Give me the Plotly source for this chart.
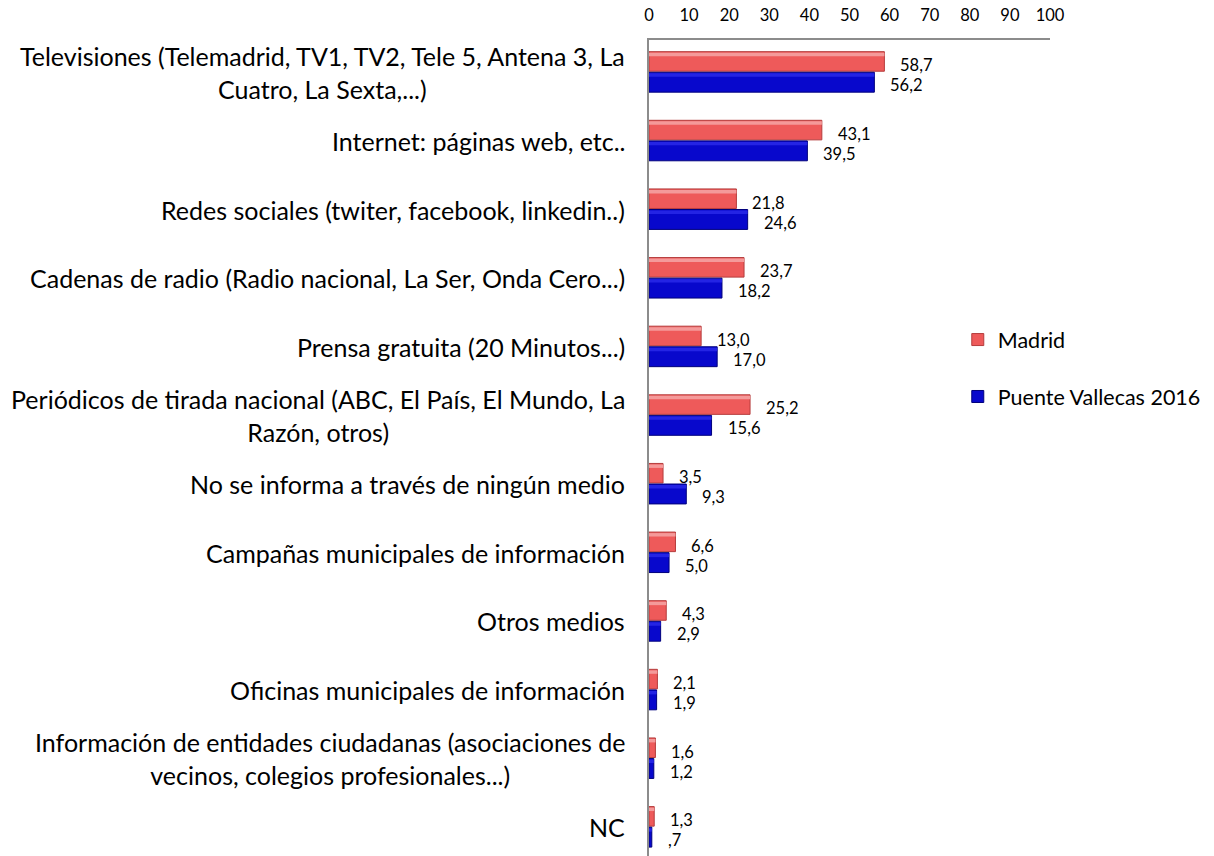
import plotly.graph_objects as go

# Medios de información: porcentajes por categoría
categorias = [
    "Televisiones (Telemadrid, TV1, TV2, Tele 5, Antena 3, La<br>Cuatro, La Sexta,...)",
    "Internet: páginas web, etc..",
    "Redes sociales (twiter, facebook, linkedin..)",
    "Cadenas de radio (Radio nacional, La Ser, Onda Cero...)",
    "Prensa gratuita (20 Minutos...)",
    "Periódicos de tirada nacional (ABC, El País, El Mundo, La<br>Razón, otros)",
    "No se informa a través de ningún medio",
    "Campañas municipales de información",
    "Otros medios",
    "Oficinas municipales de información",
    "Información de entidades ciudadanas (asociaciones de<br>vecinos, colegios profesionales...)",
    "NC",
]
madrid = [58.7, 43.1, 21.8, 23.7, 13.0, 25.2, 3.5, 6.6, 4.3, 2.1, 1.6, 1.3]
vallecas = [56.2, 39.5, 24.6, 18.2, 17.0, 15.6, 9.3, 5.0, 2.9, 1.9, 1.2, 0.7]
ticks_x = [0, 10, 20, 30, 40, 50, 60, 70, 80, 90, 100]

FONT = "Lato"
ROJO, ROJO_CLARO, ROJO_OSCURO = "#EE5A5A", "#F49A9A", "#B53C3C"
AZUL, AZUL_CLARO, AZUL_OSCURO = "#0808CC", "#2424E4", "#00007C"


def etiqueta(v):
    s = f"{v:.1f}".replace(".", ",")
    return s[1:] if s.startswith("0") else s


fig = go.Figure()

# barras principales
fig.add_trace(go.Bar(
    x=madrid, y=categorias, orientation="h", name="Madrid",
    offset=-0.30, width=0.285,
    marker=dict(color=ROJO, line=dict(color=ROJO_OSCURO, width=1)),
    legendgroup="m", hoverinfo="skip",
))
fig.add_trace(go.Bar(
    x=vallecas, y=categorias, orientation="h", name="Puente Vallecas 2016",
    offset=0.0, width=0.29,
    marker=dict(color=AZUL, line=dict(color=AZUL_OSCURO, width=1)),
    legendgroup="v", hoverinfo="skip",
))
# brillo superior de cada barra (efecto biselado)
fig.add_trace(go.Bar(
    x=madrid, y=categorias, orientation="h", showlegend=False,
    offset=-0.285, width=0.05,
    marker=dict(color=ROJO_CLARO, line=dict(width=0)),
    hoverinfo="skip",
))
fig.add_trace(go.Bar(
    x=vallecas, y=categorias, orientation="h", showlegend=False,
    offset=0.015, width=0.05,
    marker=dict(color=AZUL_CLARO, line=dict(width=0)),
    hoverinfo="skip",
))

annotations = []
for cat, m, v in zip(categorias, madrid, vallecas):
    annotations.append(dict(
        x=0, xref="paper", y=cat, yref="y", text=cat,
        xanchor="right", yanchor="middle", align="center", xshift=-22,
        showarrow=False, font=dict(family=FONT, size=25, color="#000000"),
    ))
    annotations.append(dict(
        x=m, y=cat, text=etiqueta(m), xanchor="left", yanchor="middle",
        xshift=14, yshift=7, showarrow=False,
        font=dict(family=FONT, size=16.5, color="#000000"),
    ))
    annotations.append(dict(
        x=v, y=cat, text=etiqueta(v), xanchor="left", yanchor="middle",
        xshift=14, yshift=-13, showarrow=False,
        font=dict(family=FONT, size=16.5, color="#000000"),
    ))

fig.update_layout(
    width=1214, height=856,
    margin=dict(l=649, r=164, t=40, b=0),
    paper_bgcolor="white", plot_bgcolor="white",
    barmode="overlay",
    font=dict(family=FONT, size=16, color="#000000"),
    annotations=annotations,
    legend=dict(
        x=0.77, y=0.658, xanchor="left", yanchor="top",
        font=dict(family=FONT, size=21.5), tracegroupgap=26,
        bgcolor="rgba(0,0,0,0)",
    ),
    xaxis=dict(
        side="top", range=[0, 100], tickvals=ticks_x,
        showgrid=False, zeroline=False, showline=True,
        linecolor="#8C8C8C", linewidth=2, ticks="", ticklabelstandoff=10,
        tickfont=dict(family=FONT, size=16.5),
    ),
    yaxis=dict(
        type="category", categoryorder="array", categoryarray=categorias,
        range=[11.42, -0.47], showticklabels=False, showgrid=False,
        showline=True, linecolor="#8C8C8C", linewidth=2, ticks="",
        zeroline=False,
    ),
)

fig.write_html("out.html")
